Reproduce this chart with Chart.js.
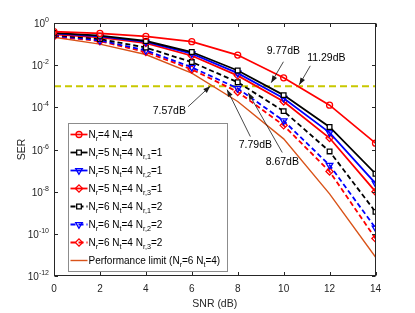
<!DOCTYPE html>
<html>
<head>
<meta charset="utf-8">
<script src="https://cdn.jsdelivr.net/npm/chart.js@4/dist/chart.umd.min.js"></script>
<style>
  html, body { margin: 0; padding: 0; background: #fff; }
  #grafico { display: block; }
</style>
</head>
<body>
<canvas id="grafico" width="415" height="313"></canvas>
<script>
// SNR (dB) no eixo x
const snr = [0, 2, 4, 6, 8, 10, 12, 14]

// SER, uma lista por curva
const serNr4Nt4 = [0.39, 0.32, 0.23, 0.13, 0.030, 2.5e-3, 1.26e-4, 2.0e-6]
const serNr5Nr1 = [0.34, 0.25, 0.14, 0.042, 5.6e-3, 3.8e-4, 1.17e-5, 7.1e-8]
const serNr5Nr2 = [0.32, 0.23, 0.126, 0.035, 4.2e-3, 2.7e-4, 6.3e-6, 2.5e-8]
const serNr5Nr3 = [0.29, 0.21, 0.112, 0.028, 3.2e-3, 1.9e-4, 3.5e-6, 1.0e-8]
const serNr6Nr1 = [0.275, 0.174, 0.068, 0.014, 1.55e-3, 6.6e-5, 8.1e-7, 1.1e-9]
const serNr6Nr2 = [0.25, 0.15, 0.05, 7.9e-3, 7.9e-4, 2.3e-5, 1.8e-7, 1.9e-10]
const serNr6Nr3 = [0.23, 0.138, 0.042, 6.3e-3, 5.4e-4, 1.4e-5, 9.1e-8, 6.0e-11]
const serLimite = [0.21, 0.10, 0.032, 4.2e-3, 1.9e-4, 3.2e-6, 7.9e-9, 7.9e-12]

// linha de referencia (SER alvo)
const serAlvo = 1e-3

// ticks dos eixos
const xTicks = [0, 2, 4, 6, 8, 10, 12, 14]
const yExpoentes = [0, -2, -4, -6, -8, -10, -12]

// legendas (_x ou _{...} = subscrito)
const legendas = [
    'N_r=4 N_t=4',
    'N_r=5 N_t=4 N_{r,1}=1',
    'N_r=5 N_t=4 N_{r,2}=1',
    'N_r=5 N_t=4 N_{r,3}=1',
    'N_r=6 N_t=4 N_{r,1}=2',
    'N_r=6 N_t=4 N_{r,2}=2',
    'N_r=6 N_t=4 N_{r,3}=2',
    'Performance limit (N_r=6 N_t=4)'
]

// textos das setas de ganho
const ganhos = ['7.57dB', '7.79dB', '8.67dB', '9.77dB', '11.29dB']

//? Onde cada seta fica (em unidades dos eixos): texto, inicio e ponta
const setas = [
    { texto: [5.02, 6.3e-5], de: [5.84, 1.07e-4], para: [6.8, 1e-3] },
    { texto: [8.77, 1.55e-6], de: [8.55, 4.1e-6], para: [7.54, 6.9e-4] },
    { texto: [9.94, 2.45e-7], de: [9.94, 7.2e-7], para: [8.46, 4.9e-4] },
    { texto: [9.99, 0.048], de: [9.99, 0.0145], para: [9.46, 1.48e-3] },
    { texto: [11.86, 0.0224], de: [11.16, 9.3e-3], para: [10.68, 1.17e-3] }
]

const FONTE = '"Liberation Sans", Arial, Helvetica, sans-serif'
const COR_EIXO = '#262626'

const circulo = { estilo: 'circle', raio: 3, rot: 0, fundo: 'rgba(0,0,0,0)' }
const quadrado = { estilo: 'rect', raio: 3.3, rot: 0, fundo: '#ffffff' }
const triangulo = { estilo: 'triangle', raio: 3.8, rot: 180, fundo: 'rgba(0,0,0,0)' }
const losango = { estilo: 'rectRot', raio: 3.6, rot: 0, fundo: 'rgba(0,0,0,0)' }

function serie(label, valores, cor, marcador, tracejado, largura) {
    return {
        label: label,
        data: snr.map((x, i) => ({ x: x, y: valores[i] })),
        borderColor: cor,
        backgroundColor: cor,
        borderWidth: largura,
        borderDash: tracejado ? [5, 3] : [],
        pointStyle: marcador ? marcador.estilo : 'circle',
        pointRotation: marcador ? marcador.rot : 0,
        pointRadius: marcador ? marcador.raio : 0,
        pointHoverRadius: marcador ? marcador.raio : 0,
        pointBorderWidth: 1.3,
        pointBorderColor: cor,
        pointBackgroundColor: marcador ? marcador.fundo : cor,
        tension: 0,
        marcador: marcador,
        tracejado: tracejado
    }
}

const datasets = [
    serie(legendas[0], serNr4Nt4, '#ff0000', circulo, false, 1.7),
    serie(legendas[1], serNr5Nr1, '#000000', quadrado, false, 1.8),
    serie(legendas[2], serNr5Nr2, '#0000ff', triangulo, false, 1.8),
    serie(legendas[3], serNr5Nr3, '#ff0000', losango, false, 1.8),
    serie(legendas[4], serNr6Nr1, '#000000', quadrado, true, 1.8),
    serie(legendas[5], serNr6Nr2, '#0000ff', triangulo, true, 1.8),
    serie(legendas[6], serNr6Nr3, '#ff0000', losango, true, 1.8),
    serie(legendas[7], serLimite, '#d95319', null, false, 1.4)
]

// linha amarela tracejada em SER = 1e-3
datasets.push({
    label: 'alvo',
    data: [{ x: snr[0], y: serAlvo }, { x: snr[snr.length - 1], y: serAlvo }],
    borderColor: '#c8c800',
    borderWidth: 1.8,
    borderDash: [7, 4],
    pointRadius: 0,
    pointHoverRadius: 0,
    semLegenda: true
})

// Desenha marcador igual ao do grafico (para a legenda)
function desenharMarcador(ctx, m, x, y, cor) {
    ctx.save()
    ctx.strokeStyle = cor
    ctx.fillStyle = m.fundo
    ctx.lineWidth = 1.3
    ctx.setLineDash([])
    ctx.beginPath()
    const r = m.raio
    if (m.estilo == 'circle') {
        ctx.arc(x, y, r, 0, Math.PI * 2)
    } else if (m.estilo == 'rect') {
        const s = Math.SQRT1_2 * r
        ctx.rect(x - s, y - s, 2 * s, 2 * s)
    } else if (m.estilo == 'rectRot') {
        ctx.moveTo(x, y - r); ctx.lineTo(x + r, y); ctx.lineTo(x, y + r); ctx.lineTo(x - r, y)
        ctx.closePath()
    } else if (m.estilo == 'triangle') {
        let a = m.rot * Math.PI / 180
        for (let k = 0; k < 3; k++) {
            const px = x + Math.sin(a) * r, py = y - Math.cos(a) * r
            k == 0 ? ctx.moveTo(px, py) : ctx.lineTo(px, py)
            a += Math.PI * 2 / 3
        }
        ctx.closePath()
    }
    ctx.fill()
    ctx.stroke()
    ctx.restore()
}

// Texto com subscritos: 'N_r' ou 'N_{r,1}'
function textoComSub(ctx, markup, x, y, tam) {
    const partes = []
    const re = /_\{([^}]*)\}|_(.)/g
    let ult = 0, m
    while ((m = re.exec(markup)) !== null) {
        if (m.index > ult) partes.push({ t: markup.slice(ult, m.index), sub: false })
        partes.push({ t: m[1] !== undefined ? m[1] : m[2], sub: true })
        ult = re.lastIndex
    }
    if (ult < markup.length) partes.push({ t: markup.slice(ult), sub: false })

    ctx.textAlign = 'left'
    ctx.textBaseline = 'alphabetic'
    for (let c = 0; c < partes.length; c++) {
        const p = partes[c]
        ctx.font = (p.sub ? tam * 0.72 : tam) + 'px ' + FONTE
        ctx.fillText(p.t, x, p.sub ? y + 3 : y)
        x += ctx.measureText(p.t).width
    }
}

//? Caixa dos eixos, ticks para dentro e rotulos 10^n
const moldura = {
    id: 'moldura',
    afterDraw(chart) {
        const ctx = chart.ctx
        const a = chart.chartArea
        const sx = chart.scales.x, sy = chart.scales.y
        const L = Math.round(a.left) + 0.5, R = Math.round(a.right) - 0.5
        const T = Math.round(a.top) + 0.5, B = Math.round(a.bottom) - 0.5
        ctx.save()
        ctx.strokeStyle = COR_EIXO
        ctx.lineWidth = 1
        ctx.setLineDash([])
        ctx.strokeRect(L, T, R - L, B - T)
        ctx.beginPath()
        for (let c = 0; c < xTicks.length; c++) {
            const px = Math.round(sx.getPixelForValue(xTicks[c])) + 0.5
            ctx.moveTo(px, B); ctx.lineTo(px, B - 3.5)
            ctx.moveTo(px, T); ctx.lineTo(px, T + 3.5)
        }
        for (let c = 0; c < yExpoentes.length; c++) {
            const py = Math.round(sy.getPixelForValue(Math.pow(10, yExpoentes[c]))) + 0.5
            ctx.moveTo(L, py); ctx.lineTo(L + 3.5, py)
            ctx.moveTo(R, py); ctx.lineTo(R - 3.5, py)
        }
        ctx.stroke()

        // rotulos do eixo y: "10" com expoente
        ctx.fillStyle = COR_EIXO
        ctx.textBaseline = 'alphabetic'
        for (let c = 0; c < yExpoentes.length; c++) {
            const py = sy.getPixelForValue(Math.pow(10, yExpoentes[c]))
            const exp = String(yExpoentes[c])
            ctx.font = '7px ' + FONTE
            const wExp = ctx.measureText(exp).width
            ctx.font = '10px ' + FONTE
            const wBase = ctx.measureText('10').width
            const fim = a.left - 5
            ctx.fillText('10', fim - wExp - wBase, py + 4)
            ctx.font = '7px ' + FONTE
            ctx.fillText(exp, fim - wExp, py - 1)
        }
        ctx.restore()
    }
}

//? Legenda dentro do grafico
const legenda = {
    id: 'legenda',
    afterDatasetsDraw(chart) {
        const ctx = chart.ctx
        const a = chart.chartArea
        const x0 = Math.round(a.left) + 14.5, y0 = Math.round(a.top) + 100.5
        const w = 159, h = 148
        ctx.save()
        ctx.fillStyle = '#ffffff'
        ctx.fillRect(x0, y0, w, h)
        ctx.strokeStyle = '#8c8c8c'
        ctx.lineWidth = 1
        ctx.strokeRect(x0, y0, w, h)

        const ds = chart.data.datasets.filter(d => !d.semLegenda)
        for (let c = 0; c < ds.length; c++) {
            const d = ds[c]
            const yy = y0 + 11 + c * 18
            ctx.strokeStyle = d.borderColor
            ctx.lineWidth = d.borderWidth
            ctx.setLineDash(d.tracejado ? [5, 3] : [])
            ctx.beginPath()
            ctx.moveTo(x0 + 2, yy)
            ctx.lineTo(x0 + 19, yy)
            ctx.stroke()
            ctx.setLineDash([])
            if (d.marcador) desenharMarcador(ctx, d.marcador, x0 + 10.5, yy, d.borderColor)
            ctx.fillStyle = '#000000'
            textoComSub(ctx, d.label, x0 + 20, yy + 3.5, 10)
        }
        ctx.restore()
    }
}

//? Setas com os ganhos em dB
const anotacoes = {
    id: 'anotacoes',
    afterDatasetsDraw(chart) {
        const ctx = chart.ctx
        const sx = chart.scales.x, sy = chart.scales.y
        ctx.save()
        for (let c = 0; c < setas.length; c++) {
            const s = setas[c]
            const x1 = sx.getPixelForValue(s.de[0]), y1 = sy.getPixelForValue(s.de[1])
            const x2 = sx.getPixelForValue(s.para[0]), y2 = sy.getPixelForValue(s.para[1])
            ctx.strokeStyle = '#1a1a1a'
            ctx.fillStyle = '#1a1a1a'
            ctx.lineWidth = 0.8
            ctx.setLineDash([])
            ctx.beginPath()
            ctx.moveTo(x1, y1)
            ctx.lineTo(x2, y2)
            ctx.stroke()
            // cabeca da seta
            const ang = Math.atan2(y2 - y1, x2 - x1)
            const comp = 7, larg = 2.6
            ctx.beginPath()
            ctx.moveTo(x2, y2)
            ctx.lineTo(x2 - comp * Math.cos(ang) + larg * Math.sin(ang), y2 - comp * Math.sin(ang) - larg * Math.cos(ang))
            ctx.lineTo(x2 - comp * Math.cos(ang) - larg * Math.sin(ang), y2 - comp * Math.sin(ang) + larg * Math.cos(ang))
            ctx.closePath()
            ctx.fill()

            ctx.fillStyle = '#000000'
            ctx.font = '10.5px ' + FONTE
            ctx.textAlign = 'center'
            ctx.textBaseline = 'middle'
            ctx.fillText(ganhos[c], sx.getPixelForValue(s.texto[0]), sy.getPixelForValue(s.texto[1]))
        }
        ctx.restore()
    }
}

const ctx = document.getElementById('grafico').getContext('2d')
const grafico = new Chart(ctx, {
    type: 'line',
    data: { datasets: datasets },
    options: {
        responsive: false,
        animation: false,
        devicePixelRatio: 1,
        layout: { padding: { left: 0, top: 23, right: 39.5, bottom: 0 } },
        plugins: {
            legend: { display: false },
            tooltip: { enabled: false }
        },
        scales: {
            x: {
                type: 'linear',
                min: 0,
                max: 14,
                afterBuildTicks: s => { s.ticks = xTicks.map(v => ({ value: v })) },
                afterFit: s => { s.height = 37 },
                grid: { display: false, drawTicks: false },
                border: { display: false },
                ticks: {
                    color: COR_EIXO,
                    padding: 7,
                    maxRotation: 0,
                    font: { family: FONTE, size: 10 }
                },
                title: {
                    display: true,
                    text: 'SNR (dB)',
                    color: COR_EIXO,
                    font: { family: FONTE, size: 10.5 },
                    padding: { top: 0, bottom: 3 }
                }
            },
            y: {
                type: 'logarithmic',
                min: 1e-12,
                max: 1,
                afterBuildTicks: s => { s.ticks = yExpoentes.map(e => ({ value: Math.pow(10, e) })) },
                afterFit: s => { s.width = 54 },
                grid: { display: false, drawTicks: false },
                border: { display: false },
                ticks: { display: false },
                title: {
                    display: true,
                    text: 'SER',
                    color: COR_EIXO,
                    font: { family: FONTE, size: 10.5 },
                    padding: { top: 16, bottom: 0 }
                }
            }
        }
    },
    plugins: [moldura, legenda, anotacoes]
})
</script>
</body>
</html>
